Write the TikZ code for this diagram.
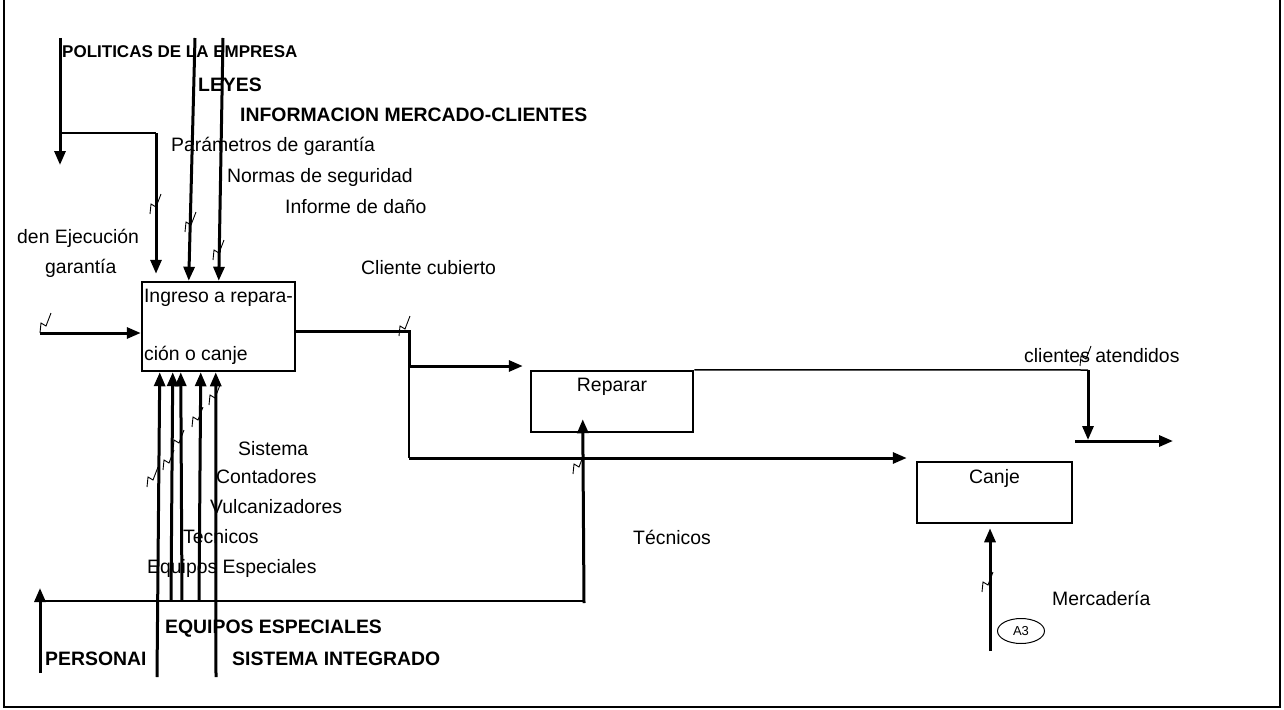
\documentclass[tikz,border=0pt]{standalone}
\usepackage{fontspec}
\setmainfont{Liberation Sans}
\usetikzlibrary{positioning,arrows.meta,shapes.geometric}

\begin{document}
\begin{tikzpicture}[
  x=1pt, y=1pt,
  box/.style={draw, line width=2.5pt, inner sep=0pt},
  lbl/.style={inner sep=0pt, anchor=west, font=\fontsize{19.4}{23}\selectfont},
  blbl/.style={lbl, font=\fontsize{19.4}{23}\selectfont\bfseries},
  arr/.style={-{Triangle[length=14pt, width=11pt]}, line width=3pt},
  ln/.style={line width=3pt},
  thinln/.style={line width=1.5pt},
  squig/.pic={\draw[line width=0.9pt] (0,0) -- (1,10) -- (6,7) -- (11,20);},
]
  \useasboundingbox (0,0) rectangle (1284,-709);
  \draw[line width=2.5pt] (4,0) -- (4,-707) -- (1280,-707) -- (1280,0);

  % activity boxes
  \node[box, minimum width=153, minimum height=89, align=left,
        font=\fontsize{19.4}{23}\selectfont] (ingreso) at (218.5,-326.5)
    {Ingreso a repara-\\[35pt]ción o canje};
  \node[box, minimum width=162, minimum height=61,
        label={[lbl, anchor=north, yshift=-8pt]north:Reparar}] (reparar) at (612,-401.5) {};
  \node[box, minimum width=155, minimum height=61,
        label={[lbl, anchor=north, yshift=-8pt]north:Canje}] (canje) at (994.5,-492.5) {};
  \node[draw, ellipse, line width=1pt, minimum width=47, minimum height=25, inner sep=0pt,
        font=\fontsize{13}{15}\selectfont] (a3) at (1021,-631) {A3};

  % labels
  \node[blbl, font=\fontsize{17}{20}\selectfont\bfseries] (politicas) at (62,-52) {POLITICAS DE LA EMPRESA};
  \node[blbl] (leyes) at (198,-85) {LEYES};
  \node[blbl] (infomerc) at (240,-115) {INFORMACION MERCADO-CLIENTES};
  \node[lbl] (param) at (171,-146) {Parámetros de garantía};
  \node[lbl] (normas) at (227,-177) {Normas de seguridad};
  \node[lbl] (informe) at (285,-207) {Informe de daño};
  \node[lbl] (orden) at (17,-238) {den Ejecución};
  \node[lbl] (garantia) at (45,-268) {garantía};
  \node[lbl] (cubierto) at (361,-268) {Cliente cubierto};
  \node[lbl] (atendidos) at (1024,-356) {clientes atendidos};
  \node[lbl] (tecrep) at (633,-537) {Técnicos};
  \node[lbl] (mercaderia) at (1052,-598) {Mercadería};
  \node[lbl] (sistema) at (238,-449) {Sistema};
  \node[lbl] (contadores) at (216,-477) {Contadores};
  \node[lbl] (vulcan) at (210,-507) {Vulcanizadores};
  \node[lbl] (tecnicos) at (183,-537) {Tecnicos};
  \node[lbl] (equipos) at (147,-568) {Equipos Especiales};
  \node[blbl] (equiposesp) at (165,-629) {EQUIPOS ESPECIALES};
  \begin{scope}
    \clip (40,-640) rectangle (144,-680);
    \node[blbl] (personal) at (45,-659) {PERSONAL};
  \end{scope}
  \node[blbl] (sisint) at (232,-659) {SISTEMA INTEGRADO};

  % controls
  \coordinate (poltop) at (60,-38);
  \coordinate (polsplit) at (60,-133);
  \coordinate (polbend) at (156,-133);
  \coordinate (leyestop) at (195,-38);
  \coordinate (infotop) at (223,-38);
  \draw[arr] (poltop) -- (60,-165) coordinate (polend);
  \draw[thinln] (polsplit) -- (polbend);
  \draw[arr, shorten >=7pt] (polbend) -- (polbend |- ingreso.north);
  \draw[arr] (leyestop) -- ([xshift=48pt]ingreso.north west);
  \draw[arr] (infotop) -- ([xshift=78pt]ingreso.north west);

  % input and outputs
  \coordinate (inp) at (40,-333);
  \draw[arr] (inp) -- (inp -| ingreso.west);
  \coordinate (outbend) at (409,-331);
  \coordinate (split1) at (409,-366);
  \coordinate (split2) at (409,-458);
  \draw[ln] (outbend -| ingreso.east) -- (outbend) -- (split1);
  \draw[arr, shorten >=7pt] (split1) -- (split1 -| reparar.west);
  \draw[thinln] (split1) -- (split2);
  \draw[arr, shorten >=9pt] (split2) -- (split2 -| canje.west);
  \coordinate (attbend) at (1088,-370);
  \draw[thinln] (reparar.north east) -- (attbend);
  \draw[arr] (attbend) -- (1088,-440) coordinate (attend);
  \coordinate (outL) at (1075,-441);
  \coordinate (outR) at (1173,-441);
  \draw[arr] (outL) -- (outR);

  % mechanisms
  \coordinate (perstip) at (40,-588);
  \coordinate (persbot) at (40,-673);
  \coordinate (persline) at (40,-601);
  \coordinate (tecbase) at (584,-603);
  \draw[arr] (persbot) -- (perstip);
  \draw[thinln] (persline) -- (persline -| tecbase);
  \draw[arr] (tecbase) -- ([xshift=53pt, yshift=14pt]reparar.south west);
  \draw[arr] (157,-677) coordinate (mech1) -- ([xshift=19pt]ingreso.south west);
  \draw[arr] (171,-601) coordinate (mech2) -- ([xshift=32pt]ingreso.south west);
  \draw[arr] (182,-601) coordinate (mech3) -- ([xshift=40pt]ingreso.south west);
  \draw[arr] (199,-601) coordinate (mech4) -- ([xshift=60pt]ingreso.south west);
  \draw[arr] (216,-677) coordinate (mech5) -- ([xshift=75pt]ingreso.south west);
  \coordinate (merc) at (990,-651);
  \draw[arr, shorten >=4pt] (merc) -- (merc |- canje.south);

  % tunnel marks
  \foreach \px/\py in {150/-214, 185/-232, 213/-260, 40/-333, 399/-336, 573/-474,
                       1080/-366, 982/-592, 147/-487, 163/-470, 173/-450, 192/-427, 209/-405}
    \pic at (\px,\py) {squig};
\end{tikzpicture}
\end{document}
